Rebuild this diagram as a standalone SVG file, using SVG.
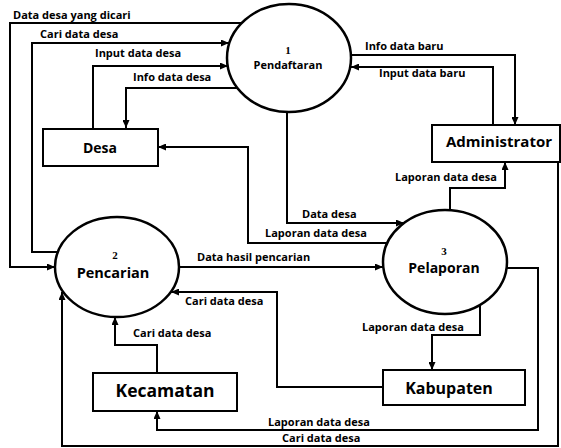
<svg xmlns="http://www.w3.org/2000/svg" width="561" height="448" viewBox="0 0 561 448">
<style>
.ln{fill:none;stroke:#000;stroke-width:2;}
.ar{marker-end:url(#ah);}
.lb{font-family:"Open Sans","Liberation Sans",sans-serif;font-weight:700;font-size:11px;fill:#000;}
.box{fill:#fff;stroke:#000;stroke-width:2;}
.proc{fill:#fff;stroke:#000;stroke-width:2.5;}
.bt{font-family:"Open Sans","Liberation Sans",sans-serif;font-weight:700;fill:#000;text-anchor:middle;}
.num{font-family:"Liberation Serif",serif;font-weight:700;font-size:11px;fill:#000;text-anchor:middle;}
</style>
<defs>
<marker id="ah" markerUnits="userSpaceOnUse" markerWidth="8" markerHeight="7" refX="8" refY="3.5" orient="auto">
<path d="M0,0 L8,3.5 L0,7 z" fill="#000"/>
</marker>
</defs>
<rect width="561" height="448" fill="#fff"/>
<g id="connectors">
<path class="ln ar" d="M260,23 H10 V267 H55"/>
<path class="ln ar" d="M70,252 H32 V43 H229"/>
<path class="ln ar" d="M93,129 V66 H228"/>
<path class="ln ar" d="M240,88 H126 V128"/>
<path class="ln ar" d="M340,55 H515 V125"/>
<path class="ln ar" d="M493,125 V67 H351"/>
<path class="ln ar" d="M450,220 V188 H505 V162"/>
<path class="ln ar" d="M287,105 V223 H404"/>
<path class="ln ar" d="M395,243 H248 V147 H158"/>
<path class="ln ar" d="M170,267 H383"/>
<path class="ln ar" d="M383,387 H277 V292 H171"/>
<path class="ln ar" d="M157,373 V345 H115 V317"/>
<path class="ln ar" d="M480,300 V335 H432 V370"/>
<path class="ln ar" d="M500,268 H538 V430 H157 V411"/>
<path class="ln ar" d="M558,162 V446 H62 V292"/>
<text class="lb" x="13" y="19">Data desa yang dicari</text>
<text class="lb" x="40" y="38">Cari data desa</text>
<text class="lb" x="95" y="57">Input data desa</text>
<text class="lb" x="133" y="81">Info data desa</text>
<text class="lb" x="365" y="50">Info data baru</text>
<text class="lb" x="379" y="77">Input data baru</text>
<text class="lb" x="395" y="181">Laporan data desa</text>
<text class="lb" x="302" y="218">Data desa</text>
<text class="lb" x="265" y="237">Laporan data desa</text>
<text class="lb" x="197" y="261">Data hasil pencarian</text>
<text class="lb" x="185" y="305">Cari data desa</text>
<text class="lb" x="133" y="337">Cari data desa</text>
<text class="lb" x="362" y="331">Laporan data desa</text>
<text class="lb" x="268" y="426">Laporan data desa</text>
<text class="lb" x="282" y="442">Cari data desa</text>
</g>
<g id="pendaftaran">
<ellipse class="proc" cx="289" cy="58" rx="62" ry="54"/>
<text class="num" x="288" y="54">1</text>
<text class="bt" x="288" y="69" font-size="11">Pendaftaran</text>
</g>
<g id="pencarian">
<ellipse class="proc" cx="117" cy="267" rx="62" ry="50"/>
<text class="num" x="115" y="259">2</text>
<text class="bt" x="113" y="278" font-size="14.5">Pencarian</text>
</g>
<g id="pelaporan">
<ellipse class="proc" cx="445" cy="262" rx="62" ry="52"/>
<text class="num" x="444" y="255">3</text>
<text class="bt" x="444" y="273" font-size="14">Pelaporan</text>
</g>
<g id="desa">
<rect class="box" x="43" y="129" width="115" height="37"/>
<text class="bt" x="100" y="153" font-size="14">Desa</text>
</g>
<g id="administrator">
<rect class="box" x="432" y="125" width="128" height="37"/>
<text class="bt" x="499" y="147" font-size="15">Administrator</text>
</g>
<g id="kabupaten">
<rect class="box" x="383" y="370" width="142" height="35"/>
<text class="bt" x="449" y="394" font-size="16">Kabupaten</text>
</g>
<g id="kecamatan">
<rect class="box" x="93" y="373" width="144" height="38"/>
<text class="bt" x="165" y="397" font-size="17.5">Kecamatan</text>
</g>
</svg>
